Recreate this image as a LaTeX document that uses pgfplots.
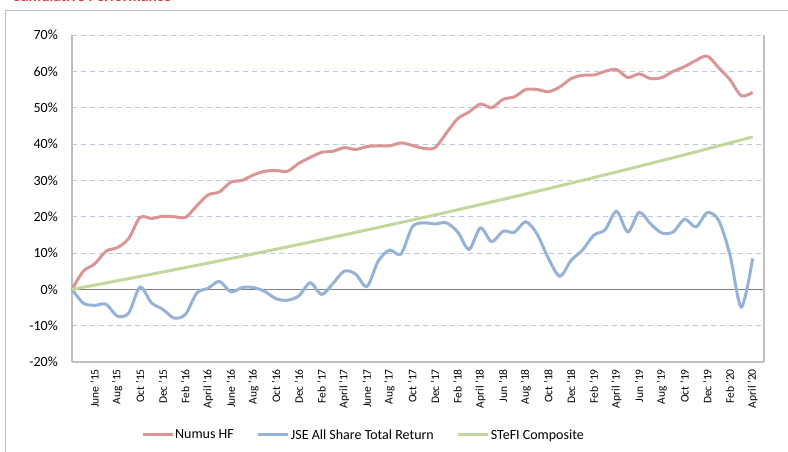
\documentclass[border=0pt]{standalone}
\usepackage{fontspec}
\setmainfont{Carlito}
\usepackage{pgfplots}
\usepackage{pgfplotstable}
\pgfplotsset{compat=1.18}
\definecolor{numus}{RGB}{217,150,148}
\definecolor{jse}{RGB}{149,179,215}
\definecolor{stefi}{RGB}{195,214,155}
\definecolor{gridc}{RGB}{185,200,222}
\definecolor{framec}{RGB}{191,191,191}
\definecolor{titlered}{RGB}{226,56,56}

\pgfplotstableread{
i numus jse stefi
0 0 0 0
1 5.0 -3.8 0.58
2 7.0 -4.4 1.17
3 10.5 -4.1 1.76
4 11.5 -7.4 2.36
5 14.0 -6.5 2.95
6 19.8 0.6 3.55
7 19.5 -3.7 4.16
8 20.1 -5.5 4.77
9 20.0 -7.9 5.38
10 19.8 -6.9 5.99
11 23.0 -1.0 6.61
12 26.0 0.3 7.23
13 26.8 2.2 7.86
14 29.5 -0.7 8.49
15 30.0 0.5 9.12
16 31.5 0.5 9.76
17 32.5 -0.6 10.40
18 32.7 -2.6 11.05
19 32.5 -3.0 11.70
20 34.7 -1.8 12.35
21 36.3 1.8 13.01
22 37.7 -1.4 13.67
23 38.0 1.6 14.33
24 39.0 5.0 15.00
25 38.5 4.2 15.67
26 39.3 0.8 16.35
27 39.5 7.8 17.03
28 39.5 10.8 17.71
29 40.3 9.7 18.40
30 39.6 17.2 19.09
31 38.8 18.3 19.79
32 39.0 18.0 20.49
33 43.0 18.3 21.19
34 47.0 15.8 21.90
35 48.8 11.0 22.62
36 51.0 16.9 23.33
37 50.0 13.1 24.06
38 52.3 16.0 24.78
39 53.0 15.7 25.51
40 55.0 18.6 26.25
41 55.0 15.2 26.99
42 54.4 8.5 27.73
43 55.7 3.6 28.48
44 58.0 8.0 29.24
45 58.9 10.8 30.00
46 59.0 14.9 30.76
47 60.0 16.4 31.53
48 60.5 21.5 32.30
49 58.3 15.8 33.08
50 59.3 21.2 33.86
51 58.0 18.0 34.65
52 58.3 15.5 35.44
53 60.0 15.8 36.24
54 61.3 19.3 37.04
55 63.0 17.2 37.85
56 64.2 21.1 38.66
57 61.0 19.0 39.48
58 57.7 9.5 40.30
59 53.3 -4.9 41.13
60 54.2 8.5 41.96
}\perfdata

\begin{document}
\begin{tikzpicture}
\useasboundingbox (0,0) rectangle (788bp,452bp);
\fill[white] (0,0) rectangle (788bp,452bp);
\draw[framec, line width=1bp] (5.5bp,-5bp) |- (800bp,441.5bp);
\node[anchor=base west, text=titlered, font=\fontsize{15.5bp}{18bp}\selectfont\bfseries, inner sep=0] at (12bp,450bp) {Cumulative Performance};
\begin{axis}[
  at={(72bp,90bp)}, anchor=south west,
  scale only axis, width=692bp, height=327bp,
  xmin=0, xmax=61, ymin=-20, ymax=70,
  axis x line*=bottom, axis y line*=left,
  axis line style={framec, line width=1.2bp},
  major tick length=0pt,
  ytick={-20,-10,...,70},
  yticklabels={-20\%,-10\%,0\%,10\%,20\%,30\%,40\%,50\%,60\%,70\%},
  yticklabel style={font=\fontsize{14bp}{16bp}\selectfont, inner sep=0pt, anchor=east},
  yticklabel shift=14bp,
  xtick={2,4,...,60},
  xticklabels={June '15, Aug '15, Oct '15, Dec '15, Feb '16, April '16, June '16, Aug '16, Oct '16, Dec '16, Feb '17, April '17, June '17, Aug '17, Oct '17, Dec '17, Feb '18, April '18, Jun '18, Aug '18, Oct '18, Dec '18, Feb '19, April '19, Jun '19, Aug '19, Oct '19, Dec '19, Feb '20, April '20},
  xticklabel style={rotate=90, anchor=east, font=\fontsize{11.5bp}{13bp}\selectfont, inner sep=0pt},
  xticklabel shift=7bp,
  ymajorgrids,
  major grid style={gridc, dash pattern=on 5bp off 4bp, line width=1bp},
  extra y ticks={0}, extra y tick labels={},
  extra y tick style={grid=major, major grid style={solid, color=black!50, line width=1.5bp}},
  legend columns=3,
  legend style={at={(0.4205,-0.2232)}, anchor=center, draw=none, fill=none,
    font=\fontsize{14bp}{16bp}\selectfont,
    nodes={inner sep=1bp},
    /tikz/every even column/.append style={column sep=22bp}},
  legend image code/.code={\draw[#1, line width=3bp] (0bp,0bp) -- (30bp,0bp);},
  clip=false,
]
\addplot[numus, line width=3bp, smooth, tension=0.5] table[x=i, y=numus] {\perfdata};
\addlegendentry{Numus HF}
\addplot[jse, line width=3bp, smooth, tension=0.5] table[x=i, y=jse] {\perfdata};
\addlegendentry{JSE All Share Total Return}
\addplot[stefi, line width=3bp, smooth, tension=0.5] table[x=i, y=stefi] {\perfdata};
\addlegendentry{STeFI Composite}
\draw[framec, line width=1.2bp] (rel axis cs:1,0) -- (rel axis cs:1,1);
\end{axis}
\end{tikzpicture}
\end{document}
